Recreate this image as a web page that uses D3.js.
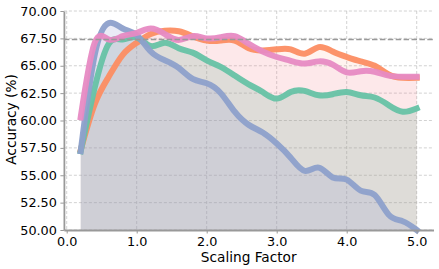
<!DOCTYPE html>
<html>
<head>
<meta charset="utf-8">
<script src="https://cdn.jsdelivr.net/npm/d3@7/dist/d3.min.js"></script>
<style>
  body { margin: 0; background: #fff; }
  svg { display: block; font-family: "DejaVu Sans", sans-serif; }
</style>
</head>
<body>
<svg id="chart"></svg>
<script>
// Scaling factors (x values)
const scales = [0.2, 0.4, 0.6, 0.8, 1.0, 1.2, 1.4, 1.6, 1.8, 2.0, 2.2, 2.4, 2.6,
                2.8, 3.0, 3.2, 3.4, 3.6, 3.8, 4.0, 4.2, 4.4, 4.6, 4.8, 5.0];

// Accuracy series
const orangeAcc = [57.3, 61.5, 64.0, 66.0, 67.1, 67.9, 68.2, 68.15, 67.7, 67.3, 67.3, 67.3, 66.6,
                   66.4, 66.5, 66.5, 66.1, 66.7, 66.3, 65.8, 65.4, 65.0, 64.2, 63.9, 63.9];
const greenAcc  = [57.2, 63.0, 67.0, 67.4, 67.6, 66.8, 67.1, 66.6, 66.2, 65.5, 64.9, 64.1, 63.3,
                   62.6, 62.0, 62.6, 62.7, 62.3, 62.4, 62.6, 62.3, 62.1, 61.4, 60.8, 61.1];
const blueAcc   = [57.2, 66.0, 68.9, 68.4, 67.8, 66.3, 65.5, 64.8, 63.8, 63.4, 62.5, 60.8, 59.6,
                   58.9, 57.9, 56.6, 55.4, 55.7, 54.8, 54.6, 53.6, 53.2, 51.4, 50.8, 50.0];
const pinkAcc   = [60.3, 67.1, 67.4, 67.7, 68.0, 68.4, 67.9, 67.35, 67.7, 67.5, 67.6, 67.7, 67.0,
                   66.3, 65.8, 65.45, 65.2, 65.4, 65.1, 64.4, 64.5, 64.45, 64.1, 64.0, 64.0];

const refLine = 67.4;
const xTicks = [0, 1, 2, 3, 4, 5];
const yTicks = [50, 52.5, 55, 57.5, 60, 62.5, 65, 67.5, 70];

const width = 439, height = 269;
const margin = { top: 11, right: 5.5, bottom: 39, left: 63.9 };

const svg = d3.select("#chart")
    .attr("width", width)
    .attr("height", height);

const x = d3.scaleLinear()
    .domain([-0.04, 5.24])
    .range([margin.left, width - margin.right]);

const y = d3.scaleLinear()
    .domain([50, 70])
    .range([height - margin.bottom, margin.top]);

svg.append("clipPath").attr("id", "plotClip")
  .append("rect")
    .attr("x", margin.left)
    .attr("y", margin.top)
    .attr("width", width - margin.left - margin.right)
    .attr("height", height - margin.top - margin.bottom);

// grid
const grid = svg.append("g")
    .attr("stroke", "#b0b0b0")
    .attr("stroke-width", 0.8)
    .attr("stroke-dasharray", "3,2")
    .attr("opacity", 0.7);
grid.selectAll(".gx").data(xTicks).enter().append("line")
    .attr("x1", d => x(d)).attr("x2", d => x(d))
    .attr("y1", margin.top).attr("y2", height - margin.bottom);
grid.selectAll(".gy").data(yTicks).enter().append("line")
    .attr("x1", margin.left).attr("x2", width - margin.right)
    .attr("y1", d => y(d)).attr("y2", d => y(d));

const series = [
    { values: orangeAcc, color: "#fc8d62", fill: "#fc8d62", fillOpacity: 0.1 },
    { values: pinkAcc,   color: "#e78ac3", fill: "#e78ac3", fillOpacity: 0.1 },
    { values: greenAcc,  color: "#66c2a5", fill: "#66ad91", fillOpacity: 0.2 },
    { values: blueAcc,   color: "#8da0cb", fill: "#989cd4", fillOpacity: 0.2 }
];

const area = d3.area()
    .x((d, i) => x(scales[i]))
    .y0(y(50))
    .y1(d => y(d))
    .curve(d3.curveNatural);

const line = d3.line()
    .x((d, i) => x(scales[i]))
    .y(d => y(d))
    .curve(d3.curveNatural);

const plot = svg.append("g").attr("clip-path", "url(#plotClip)");

// filled areas
series.forEach(s => {
    plot.append("path")
        .datum(s.values)
        .attr("fill", s.fill)
        .attr("fill-opacity", s.fillOpacity)
        .attr("d", area);
});

// lines: orange, green, blue, pink on top
[series[0], series[2], series[3], series[1]].forEach(s => {
    svg.append("path")
        .datum(s.values)
        .attr("fill", "none")
        .attr("stroke", s.color)
        .attr("stroke-width", 6)
        .attr("stroke-linecap", "square")
        .attr("stroke-linejoin", "round")
        .attr("opacity", 0.95)
        .attr("d", line);
});

// reference line
svg.append("line")
    .attr("x1", margin.left).attr("x2", width - margin.right)
    .attr("y1", y(refLine)).attr("y2", y(refLine))
    .attr("stroke", "#999")
    .attr("stroke-width", 1.5)
    .attr("stroke-dasharray", "5.5,2.4");

// axes
const xAxis = svg.append("g")
    .attr("transform", `translate(0, ${height - margin.bottom})`)
    .call(d3.axisBottom(x).tickValues(xTicks).tickFormat(d3.format(".1f"))
        .tickSize(3.5).tickPadding(3.5).tickSizeOuter(0));

const yAxis = svg.append("g")
    .attr("transform", `translate(${margin.left}, 0)`)
    .call(d3.axisLeft(y).tickValues(yTicks).tickFormat(d3.format(".2f"))
        .tickSize(3.5).tickPadding(3.5).tickSizeOuter(0));

[xAxis, yAxis].forEach(a => {
    a.select(".domain").attr("stroke", "#999").attr("stroke-width", 1.8);
    a.selectAll(".tick line").attr("stroke", "#999").attr("stroke-width", 1);
    a.selectAll("text").attr("fill", "#000").attr("font-size", "12.8px")
        .attr("font-family", "DejaVu Sans, sans-serif");
});

// axis labels
svg.append("text")
    .attr("x", (margin.left + width - margin.right) / 2)
    .attr("y", 262)
    .attr("text-anchor", "middle")
    .attr("font-size", "13.7px")
    .text("Scaling Factor");

svg.append("text")
    .attr("transform", `translate(16, 119.5) rotate(-90)`)
    .attr("text-anchor", "middle")
    .attr("font-size", "13.7px")
    .text("Accuracy (%)");
</script>
</body>
</html>
